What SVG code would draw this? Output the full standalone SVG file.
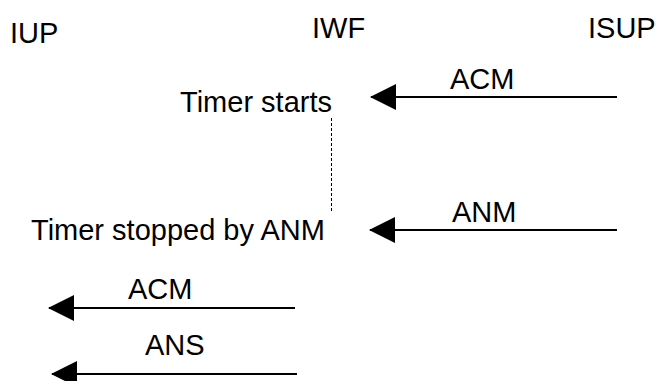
<svg xmlns="http://www.w3.org/2000/svg" width="657" height="381" viewBox="0 0 657 381">
  <style>
    text { font-family: "Liberation Sans", Arial, sans-serif; font-size: 29px; fill: #000; }
    .msg { stroke: #000; stroke-width: 2; fill: none; }
    .timer { stroke: #000; stroke-width: 1; stroke-dasharray: 3 2; fill: none; }
  </style>
  <defs>
    <marker id="arrow" markerUnits="userSpaceOnUse" viewBox="0 0 26 26" markerWidth="26" markerHeight="26" refX="25" refY="13" orient="auto">
      <path d="M0,0 L26,13 L0,26 z" fill="#000"/>
    </marker>
  </defs>
  <rect width="657" height="381" fill="#fff"/>
  <g id="iup"><text x="10" y="43">IUP</text></g>
  <g id="iwf"><text x="312" y="38">IWF</text></g>
  <g id="isup"><text x="588" y="38">ISUP</text></g>
  <g id="timer-starts"><text x="332" y="112" text-anchor="end">Timer starts</text></g>
  <g id="timer-stopped"><text x="31" y="240">Timer stopped by ANM</text></g>
  <g id="connectors">
    <line class="msg" x1="617" y1="97" x2="371" y2="97" marker-end="url(#arrow)"/>
    <text x="450" y="89">ACM</text>
    <line class="msg" x1="617" y1="230" x2="370" y2="230" marker-end="url(#arrow)"/>
    <text x="452" y="222">ANM</text>
    <line class="timer" x1="331.5" y1="118" x2="331.5" y2="212"/>
    <line class="msg" x1="295" y1="308" x2="49" y2="308" marker-end="url(#arrow)"/>
    <text x="128" y="299">ACM</text>
    <line class="msg" x1="297" y1="374" x2="52" y2="374" marker-end="url(#arrow)"/>
    <text x="145" y="355">ANS</text>
  </g>
</svg>
